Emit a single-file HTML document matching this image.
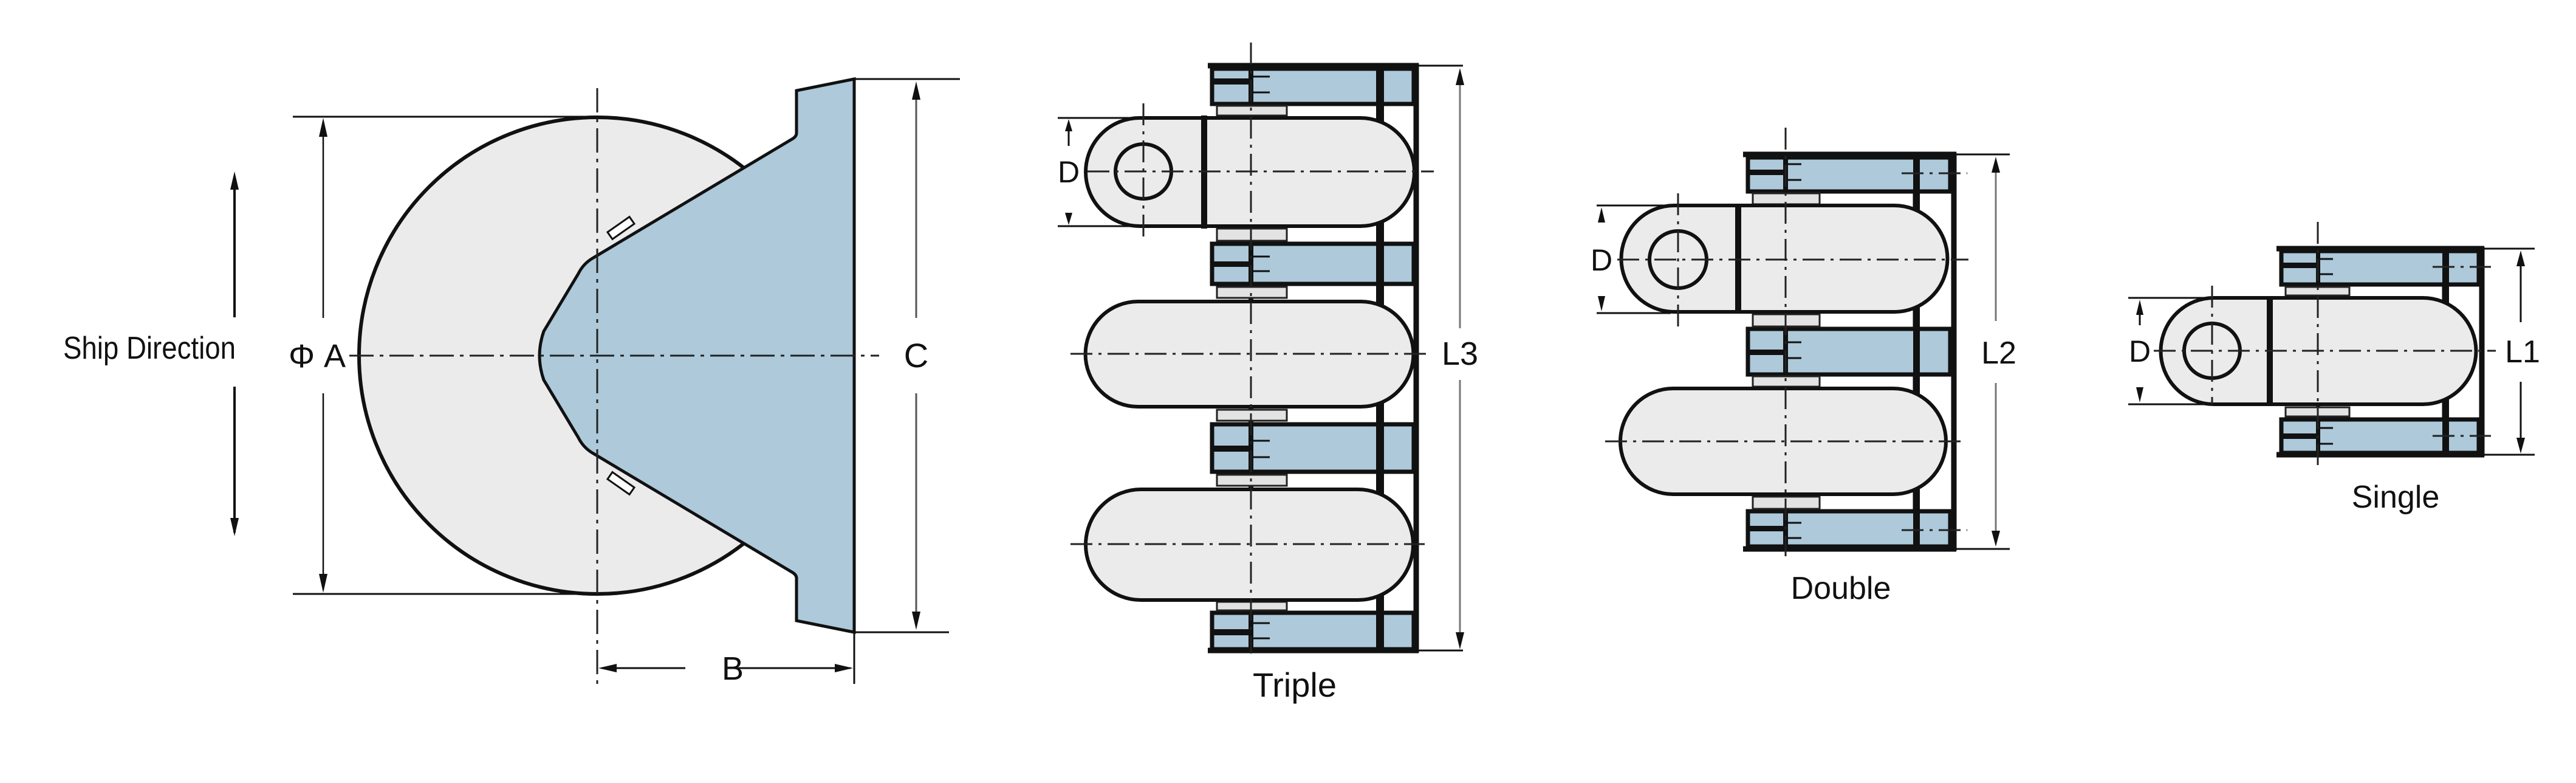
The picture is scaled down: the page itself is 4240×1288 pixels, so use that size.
<!DOCTYPE html>
<html><head><meta charset="utf-8"><style>
html,body{margin:0;padding:0;background:#fff;}
svg{display:block;}
text{font-family:"Liberation Sans",sans-serif;fill:#111;}
</style></head><body>
<svg width="4240" height="1288" viewBox="0 0 4240 1288" xmlns="http://www.w3.org/2000/svg">
<defs>
<marker id="au" viewBox="0 0 10 20" refX="5" refY="0" markerWidth="10" markerHeight="20" markerUnits="userSpaceOnUse" orient="auto"></marker>
</defs>
<rect width="4240" height="1288" fill="#fff"/>

<!-- ========== LEFT FIGURE ========== -->
<circle cx="983" cy="585" r="392" fill="#ebebeb" stroke="#111" stroke-width="6"/>
<path d="M1406,130 L1311,149 L1311,219 Q1311,224 1305,228 L975,425 Q960,434 952,450 L895,545 Q888,565 888,585 Q888,605 895,625 L952,720 Q960,736 975,745 L1305,942 Q1311,946 1311,951 L1311,1021 L1406,1040 Z" fill="#adc9da" stroke="#111" stroke-width="5"/>
<rect x="1000" y="368" width="44" height="14" fill="#fff" stroke="#111" stroke-width="3" transform="rotate(-35 1022 375)"/>
<rect x="1000" y="788" width="44" height="14" fill="#fff" stroke="#111" stroke-width="3" transform="rotate(35 1022 795)"/>
<!-- centerlines -->
<line x1="575" y1="585" x2="1447" y2="585" stroke="#222" stroke-width="3" stroke-dasharray="40,10,6,10"/>
<line x1="983" y1="145" x2="983" y2="1128" stroke="#222" stroke-width="3" stroke-dasharray="40,10,6,10"/>
<!-- ΦA -->
<line x1="482" y1="192" x2="983" y2="192" stroke="#111" stroke-width="3"/>
<line x1="482" y1="977" x2="983" y2="977" stroke="#111" stroke-width="3"/>
<line x1="532" y1="200" x2="532" y2="523" stroke="#111" stroke-width="2.5"/>
<line x1="532" y1="647" x2="532" y2="970" stroke="#111" stroke-width="2.5"/>
<path d="M532,194 L525,225 L539,225 Z M532,975 L525,944 L539,944 Z" fill="#111"/>
<text x="522" y="604" font-size="54" text-anchor="middle">Φ A</text>
<!-- Ship direction -->
<line x1="386" y1="290" x2="386" y2="522" stroke="#111" stroke-width="4"/>
<line x1="386" y1="636" x2="386" y2="876" stroke="#111" stroke-width="4"/>
<path d="M386,282 L379,312 L393,312 Z M386,882 L379,852 L393,852 Z" fill="#111"/>
<text x="246" y="590" font-size="52" text-anchor="middle" textLength="284" lengthAdjust="spacingAndGlyphs">Ship Direction</text>
<!-- C -->
<line x1="1406" y1="130" x2="1580" y2="130" stroke="#111" stroke-width="3"/>
<line x1="1406" y1="1040" x2="1562" y2="1040" stroke="#111" stroke-width="3"/>
<line x1="1508" y1="160" x2="1508" y2="523" stroke="#555" stroke-width="3"/>
<line x1="1508" y1="647" x2="1508" y2="1012" stroke="#555" stroke-width="3"/>
<path d="M1508,134 L1501,164 L1515,164 Z M1508,1036 L1501,1006 L1515,1006 Z" fill="#111"/>
<text x="1508" y="604" font-size="56" text-anchor="middle">C</text>
<!-- B -->
<line x1="1406" y1="1040" x2="1406" y2="1125" stroke="#111" stroke-width="3"/>
<line x1="990" y1="1099" x2="1128" y2="1099" stroke="#111" stroke-width="3"/>
<line x1="1205" y1="1099" x2="1400" y2="1099" stroke="#111" stroke-width="3"/>
<path d="M985,1099 L1015,1092 L1015,1106 Z M1404,1099 L1374,1092 L1374,1106 Z" fill="#111"/>
<text x="1206" y="1118" font-size="54" text-anchor="middle">B</text>

<!-- ========== TRIPLE ========== -->
<g stroke="#111">
<!-- vertical divider & right bar -->
<line x1="2272" y1="108" x2="2272" y2="1070" stroke-width="12"/>
<line x1="2331" y1="104" x2="2331" y2="1074" stroke-width="9"/>
<line x1="1988" y1="108" x2="2408" y2="108" stroke-width="3"/>
<line x1="1988" y1="108" x2="2335" y2="108" stroke-width="9"/>
<line x1="1988" y1="1070" x2="2408" y2="1070" stroke-width="3"/>
<line x1="1988" y1="1070" x2="2335" y2="1070" stroke-width="9"/>
</g>
<g fill="#adc9da" stroke="#111" stroke-width="7">
<rect x="1995" y="113" width="332" height="58"/>
<rect x="1995" y="401" width="332" height="66"/>
<rect x="1995" y="698" width="332" height="78"/>
<rect x="1995" y="1008" width="332" height="60"/>
</g>
<g fill="#111">
<rect x="2265" y="110" width="13" height="960"/>
<rect x="1995" y="129" width="60" height="10"/><rect x="1995" y="430" width="60" height="9"/>
<rect x="1995" y="733" width="60" height="10"/><rect x="1995" y="1035" width="60" height="10"/>
<rect x="2055" y="110" width="8" height="960"/>
</g>
<g stroke="#111" stroke-width="3">
<line x1="2063" y1="126" x2="2090" y2="126"/><line x1="2063" y1="152" x2="2090" y2="152"/>
<line x1="2063" y1="422" x2="2090" y2="422"/><line x1="2063" y1="446" x2="2090" y2="446"/>
<line x1="2063" y1="725" x2="2090" y2="725"/><line x1="2063" y1="752" x2="2090" y2="752"/>
<line x1="2063" y1="1025" x2="2090" y2="1025"/><line x1="2063" y1="1050" x2="2090" y2="1050"/>
</g>
<g fill="#e3e3e3" stroke="#222" stroke-width="3">
<rect x="2003" y="174" width="115" height="16"/><rect x="2003" y="376" width="115" height="20"/>
<rect x="2003" y="472" width="115" height="18"/><rect x="2003" y="674" width="115" height="18"/>
<rect x="2003" y="781" width="115" height="18"/><rect x="2003" y="990" width="115" height="14"/>
</g>
<!-- lug + pill1 -->
<path d="M1876,194 L1980,194 L1980,372 L1876,372 A89,89 0 0 1 1876,194 Z" fill="#ebebeb" stroke="#111" stroke-width="6"/>
<path d="M1984,194 L2239,194 A89,89 0 0 1 2239,372 L1984,372 Z" fill="#ebebeb" stroke="#111" stroke-width="6"/>
<line x1="1982" y1="190" x2="1982" y2="376" stroke="#111" stroke-width="10"/>
<ellipse cx="1882" cy="282" rx="46" ry="45" fill="#ebebeb" stroke="#111" stroke-width="6"/>
<path d="M1873,496 L2240,496 A86,86 0 0 1 2240,669 L1873,669 A86,86 0 0 1 1873,496 Z" fill="#ebebeb" stroke="#111" stroke-width="6"/>
<path d="M1878,805 L2235,805 A91,91 0 0 1 2235,987 L1878,987 A91,91 0 0 1 1878,805 Z" fill="#ebebeb" stroke="#111" stroke-width="6"/>
<g stroke="#222" stroke-width="3" stroke-dasharray="36,10,5,10">
<line x1="1790" y1="282" x2="2360" y2="282"/>
<line x1="1762" y1="582" x2="2355" y2="582"/>
<line x1="1762" y1="895" x2="2345" y2="895"/>
<line x1="2059" y1="70" x2="2059" y2="1075"/>
<line x1="1882" y1="170" x2="1882" y2="395"/>
</g>
<!-- D -->
<line x1="1741" y1="194" x2="1870" y2="194" stroke="#111" stroke-width="3"/>
<line x1="1741" y1="372" x2="1870" y2="372" stroke="#111" stroke-width="3"/>
<path d="M1759,196 L1753,216 L1765,216 Z M1759,370 L1753,350 L1765,350 Z" fill="#111"/>
<line x1="1759" y1="214" x2="1759" y2="240" stroke="#111" stroke-width="3"/>
<text x="1759" y="300" font-size="50" text-anchor="middle">D</text>
<!-- L3 -->
<line x1="2403" y1="130" x2="2403" y2="540" stroke="#777" stroke-width="3"/>
<line x1="2403" y1="625" x2="2403" y2="1052" stroke="#777" stroke-width="3"/>
<path d="M2403,112 L2396,140 L2410,140 Z M2403,1068 L2396,1040 L2410,1040 Z" fill="#111"/>
<text x="2403" y="600" font-size="54" text-anchor="middle">L3</text>
<text x="2131" y="1146" font-size="56" text-anchor="middle">Triple</text>

<!-- ========== DOUBLE ========== -->
<g stroke="#111">
<line x1="3154" y1="256" x2="3154" y2="902" stroke-width="11"/>
<line x1="3216" y1="251" x2="3216" y2="906" stroke-width="9"/>
<line x1="3210" y1="254" x2="3308" y2="254" stroke-width="3"/>
<line x1="2869" y1="254" x2="3220" y2="254" stroke-width="9"/>
<line x1="3210" y1="903" x2="3308" y2="903" stroke-width="3"/>
<line x1="2869" y1="903" x2="3220" y2="903" stroke-width="9"/>
</g>
<g fill="#adc9da" stroke="#111" stroke-width="7">
<rect x="2877" y="259" width="333" height="56"/>
<rect x="2877" y="541" width="333" height="75"/>
<rect x="2877" y="841" width="333" height="58"/>
</g>
<g fill="#111">
<rect x="3149" y="256" width="11" height="646"/>
<rect x="2935" y="256" width="8" height="646"/>
<rect x="2877" y="279" width="58" height="9"/><rect x="2877" y="575" width="58" height="9"/><rect x="2877" y="865" width="58" height="9"/>
</g>
<g stroke="#111" stroke-width="3">
<line x1="2943" y1="270" x2="2965" y2="270"/><line x1="2943" y1="296" x2="2965" y2="296"/>
<line x1="2943" y1="563" x2="2965" y2="563"/><line x1="2943" y1="589" x2="2965" y2="589"/>
<line x1="2943" y1="860" x2="2965" y2="860"/><line x1="2943" y1="885" x2="2965" y2="885"/>
</g>
<g fill="#e3e3e3" stroke="#222" stroke-width="3">
<rect x="2885" y="318" width="110" height="18"/><rect x="2885" y="517" width="110" height="20"/>
<rect x="2885" y="619" width="110" height="17"/><rect x="2885" y="817" width="110" height="20"/>
</g>
<path d="M2756,338 L2859,338 L2859,513 L2756,513 A87,87 0 0 1 2756,338 Z" fill="#ebebeb" stroke="#111" stroke-width="6"/>
<path d="M2862,338 L3118,338 A87,87 0 0 1 3118,513 L2862,513 Z" fill="#ebebeb" stroke="#111" stroke-width="6"/>
<line x1="2861" y1="336" x2="2861" y2="515" stroke="#111" stroke-width="10"/>
<circle cx="2762" cy="427" r="47" fill="#ebebeb" stroke="#111" stroke-width="6"/>
<path d="M2754,639 L3116,639 A87,87 0 0 1 3116,813 L2754,813 A87,87 0 0 1 2754,639 Z" fill="#ebebeb" stroke="#111" stroke-width="6"/>
<g stroke="#222" stroke-width="3" stroke-dasharray="36,10,5,10">
<line x1="2662" y1="427" x2="3240" y2="427"/>
<line x1="2642" y1="726" x2="3230" y2="726"/>
<line x1="2939" y1="210" x2="2939" y2="915"/>
<line x1="2762" y1="318" x2="2762" y2="540"/>
<line x1="3130" y1="285" x2="3238" y2="285"/>
<line x1="3130" y1="872" x2="3238" y2="872"/>
</g>
<line x1="2628" y1="338" x2="2750" y2="338" stroke="#111" stroke-width="3"/>
<line x1="2628" y1="515" x2="2750" y2="515" stroke="#111" stroke-width="3"/>
<path d="M2636,341 L2630,366 L2642,366 Z M2636,512 L2630,487 L2642,487 Z" fill="#111"/>
<text x="2636" y="445" font-size="50" text-anchor="middle">D</text>
<line x1="3285" y1="275" x2="3285" y2="528" stroke="#777" stroke-width="3"/>
<line x1="3285" y1="630" x2="3285" y2="882" stroke="#777" stroke-width="3"/>
<path d="M3285,258 L3278,284 L3292,284 Z M3285,899 L3278,873 L3292,873 Z" fill="#111"/>
<text x="3290" y="598" font-size="52" text-anchor="middle">L2</text>
<text x="3030" y="985" font-size="52" text-anchor="middle">Double</text>

<!-- ========== SINGLE ========== -->
<g stroke="#111">
<line x1="4025" y1="411" x2="4025" y2="746" stroke-width="11"/>
<line x1="4085" y1="406" x2="4085" y2="751" stroke-width="9"/>
<line x1="4080" y1="409" x2="4172" y2="409" stroke-width="3"/>
<line x1="3747" y1="409" x2="4089" y2="409" stroke-width="9"/>
<line x1="4080" y1="748" x2="4172" y2="748" stroke-width="3"/>
<line x1="3747" y1="748" x2="4089" y2="748" stroke-width="9"/>
</g>
<g fill="#adc9da" stroke="#111" stroke-width="7">
<rect x="3755" y="413" width="325" height="55"/>
<rect x="3755" y="690" width="325" height="55"/>
</g>
<g fill="#111">
<rect x="4020" y="411" width="11" height="336"/>
<rect x="3812" y="411" width="7" height="336"/>
<rect x="3755" y="432" width="57" height="9"/><rect x="3755" y="713" width="57" height="9"/>
</g>
<g stroke="#111" stroke-width="3">
<line x1="3819" y1="426" x2="3840" y2="426"/><line x1="3819" y1="451" x2="3840" y2="451"/>
<line x1="3819" y1="704" x2="3840" y2="704"/><line x1="3819" y1="730" x2="3840" y2="730"/>
</g>
<g fill="#e3e3e3" stroke="#222" stroke-width="3">
<rect x="3762" y="472" width="105" height="14"/><rect x="3762" y="670" width="105" height="15"/>
</g>
<path d="M3644,490 L3734,490 L3734,665 L3644,665 A87,87 0 0 1 3644,490 Z" fill="#ebebeb" stroke="#111" stroke-width="6"/>
<path d="M3737,490 L3988,490 A87,87 0 0 1 3988,665 L3737,665 Z" fill="#ebebeb" stroke="#111" stroke-width="6"/>
<line x1="3736" y1="488" x2="3736" y2="667" stroke="#111" stroke-width="10"/>
<ellipse cx="3641" cy="577" rx="46" ry="45" fill="#ebebeb" stroke="#111" stroke-width="6"/>
<g stroke="#222" stroke-width="3" stroke-dasharray="36,10,5,10">
<line x1="3545" y1="577" x2="4108" y2="577"/>
<line x1="3815" y1="365" x2="3815" y2="765"/>
<line x1="3641" y1="470" x2="3641" y2="665"/>
<line x1="4004" y1="439" x2="4100" y2="439"/>
<line x1="4004" y1="717" x2="4100" y2="717"/>
</g>
<line x1="3503" y1="490" x2="3630" y2="490" stroke="#111" stroke-width="3"/>
<line x1="3503" y1="665" x2="3630" y2="665" stroke="#111" stroke-width="3"/>
<path d="M3522,493 L3516,518 L3528,518 Z M3522,662 L3516,637 L3528,637 Z" fill="#111"/>
<line x1="3522" y1="515" x2="3522" y2="535" stroke="#111" stroke-width="3"/>
<text x="3522" y="595" font-size="50" text-anchor="middle">D</text>
<line x1="4149" y1="430" x2="4149" y2="530" stroke="#111" stroke-width="3"/>
<line x1="4149" y1="628" x2="4149" y2="728" stroke="#111" stroke-width="3"/>
<path d="M4149,412 L4142,438 L4156,438 Z M4149,746 L4142,720 L4156,720 Z" fill="#111"/>
<text x="4152" y="596" font-size="52" text-anchor="middle">L1</text>
<text x="3943" y="835" font-size="52" text-anchor="middle">Single</text>
</svg>
</body></html>
